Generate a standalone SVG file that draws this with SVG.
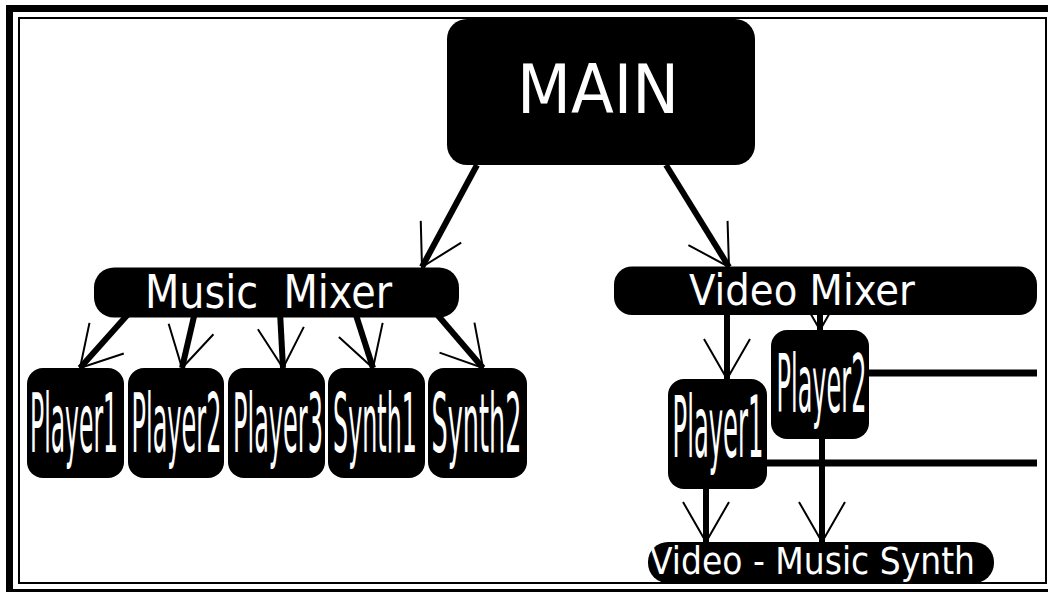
<svg xmlns="http://www.w3.org/2000/svg" width="1048" height="592" viewBox="0 0 1048 592">
  <style>
    .box { fill: #000; }
    .lbl { fill: #fff; font-family: "DejaVu Sans", "Verdana", sans-serif; }
    .tall { font-size: 82px; }
    .edge { stroke: #000; stroke-width: 6; fill: none; marker-end: url(#barb); }
    .wire { stroke: #000; stroke-width: 7; fill: none; }
  </style>
  <defs>
    <!-- open two-stroke arrowhead drawn at the end of each connector -->
    <marker id="barb" markerUnits="userSpaceOnUse" markerWidth="100" markerHeight="100"
            viewBox="-50 -50 100 100" refX="0" refY="0" orient="auto" overflow="visible">
      <path d="M-40,-23 L0,0 L-40,23" fill="none" stroke="#000" stroke-width="2"/>
    </marker>
  </defs>

  <rect width="1048" height="592" fill="#fff"/>

  <!-- frame -->
  <rect x="9.5" y="8.5" width="1060" height="584" fill="none" stroke="#000" stroke-width="7"/>
  <rect x="19" y="18" width="1027" height="565" fill="none" stroke="#000" stroke-width="2"/>

  <!-- connectors -->
  <g id="connectors">
    <line class="edge" x1="477" y1="165" x2="422" y2="267"/>
    <line class="edge" x1="666" y1="165" x2="729" y2="267"/>

    <line class="edge" x1="130" y1="312" x2="80" y2="368"/>
    <line class="edge" x1="195" y1="312" x2="182" y2="368"/>
    <line class="edge" x1="280" y1="312" x2="283" y2="368"/>
    <line class="edge" x1="355" y1="312" x2="373" y2="368"/>
    <line class="edge" x1="435" y1="312" x2="483" y2="368"/>

    <line class="edge" x1="727" y1="310" x2="727" y2="379"/>
    <line class="edge" x1="820" y1="310" x2="820" y2="330"/>
    <line class="edge" x1="706" y1="485" x2="706" y2="542"/>
    <line class="edge" x1="822" y1="435" x2="822" y2="542"/>

    <line class="wire" x1="865" y1="373" x2="1037" y2="373"/>
    <line class="wire" x1="763" y1="463" x2="1037" y2="463"/>
  </g>

  <g id="main">
    <rect class="box" x="447" y="19" width="308" height="146" rx="20"/>
    <text class="lbl" x="517" y="113" font-size="68" textLength="162" lengthAdjust="spacingAndGlyphs">MAIN</text>
  </g>

  <g id="music-mixer">
    <rect class="box" x="94" y="267.5" width="365" height="50" rx="20"/>
    <text class="lbl" x="145" y="308" font-size="46" textLength="247" lengthAdjust="spacingAndGlyphs" xml:space="preserve">Music  Mixer</text>
  </g>

  <g id="video-mixer">
    <rect class="box" x="614" y="266.5" width="423" height="48.5" rx="18"/>
    <text class="lbl" x="689" y="305" font-size="42" textLength="226" lengthAdjust="spacingAndGlyphs">Video Mixer</text>
  </g>

  <!-- tall condensed labels: horizontally squeezed glyphs -->
  <g id="music-player1">
    <rect class="box" x="27" y="368" width="97" height="110" rx="16"/>
    <text class="lbl tall" transform="translate(30 452) scale(0.2864 1)">Player1</text>
  </g>
  <g id="music-player2">
    <rect class="box" x="128" y="368" width="96" height="110" rx="16"/>
    <text class="lbl tall" transform="translate(131.5 452) scale(0.2929 1)">Player2</text>
  </g>
  <g id="music-player3">
    <rect class="box" x="228" y="368" width="97" height="110" rx="16"/>
    <text class="lbl tall" transform="translate(233 452) scale(0.2929 1)">Player3</text>
  </g>
  <g id="music-synth1">
    <rect class="box" x="328" y="368" width="97" height="110" rx="16"/>
    <text class="lbl tall" transform="translate(333 452) scale(0.2908 1)">Synth1</text>
  </g>
  <g id="music-synth2">
    <rect class="box" x="428" y="368" width="99" height="110" rx="16"/>
    <text class="lbl tall" transform="translate(431.5 452) scale(0.3115 1)">Synth2</text>
  </g>

  <g id="video-player1">
    <rect class="box" x="668" y="379" width="99" height="110" rx="16"/>
    <text class="lbl" font-size="85" transform="translate(672.5 457) scale(0.2856 1)">Player1</text>
  </g>
  <g id="video-player2">
    <rect class="box" x="771" y="330" width="98" height="109" rx="16"/>
    <text class="lbl" font-size="80" transform="translate(776.5 412) scale(0.3002 1)">Player2</text>
  </g>

  <g id="video-music-synth">
    <rect class="box" x="648" y="542" width="346" height="41" rx="20"/>
    <text class="lbl" x="650" y="574" font-size="37" textLength="325" lengthAdjust="spacingAndGlyphs">Video - Music Synth</text>
  </g>
</svg>
